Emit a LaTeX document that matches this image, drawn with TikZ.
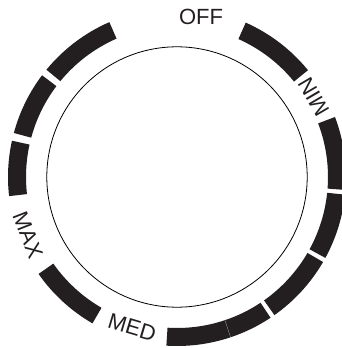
\documentclass[tikz,border=0pt]{standalone}
\usepackage{fontspec}
\setmainfont{Liberation Sans}
\definecolor{segblack}{RGB}{35,31,32}

\begin{document}
\begin{tikzpicture}[x=1pt, y=1pt, line join=miter,
  seg/.style={fill=segblack},
  lbl/.style={inner sep=0pt, text=segblack, font=\fontsize{22}{24}\selectfont}]
\useasboundingbox (-177,-171) rectangle (165,177);

% Dial
\draw[line width=0.8pt, black] (0,0) circle (130.2pt);

% Segments
\fill[seg] (39.2:151pt) arc (39.2:66:151pt) -- (66:169pt) arc (66:39.2:169pt) -- cycle;
\fill[seg] (-4.4:151pt) arc (-4.4:20.8:151pt) -- (20.8:169pt) arc (20.8:-4.4:169pt) -- cycle;
\fill[seg] (-28.6:151pt) arc (-28.6:-6:151pt) -- (-6:169pt) arc (-6:-28.6:169pt) -- cycle;
\fill[seg] (-54.8:151pt) arc (-54.8:-30.2:151pt) -- (-30.2:169pt) arc (-30.2:-54.8:169pt) -- cycle;
\fill[seg] (-71.5:151pt) arc (-71.5:-56.4:151pt) -- (-56.4:169pt) arc (-56.4:-71.5:169pt) -- cycle;
\fill[seg] (-93.6:151pt) arc (-93.6:-71.5:151pt) -- (-71.5:169pt) arc (-71.5:-93.6:169pt) -- cycle;
\draw[black!45, line width=0.3pt] (-71.5:151pt) -- (-71.5:169pt);
\fill[seg] (215:151pt) arc (215:240:151pt) -- (240:169pt) arc (240:215:169pt) -- cycle;
\fill[seg] (167.6:151pt) arc (167.6:186.5:151pt) -- (186.5:169pt) arc (186.5:167.6:169pt) -- cycle;
\fill[seg] (143:151pt) arc (143:164.9:151pt) -- (164.9:169pt) arc (164.9:143:169pt) -- cycle;
\fill[seg] (113.6:151pt) arc (113.6:140.6:151pt) -- (140.6:169pt) arc (140.6:113.6:169pt) -- cycle;

% Labels
\node[lbl] (off) at (24,160) {OFF};
\node[lbl, rotate=120.3] (min) at (30.3:159pt) {MIN};
\node[lbl, rotate=291.3] (max) at (201.3:160pt) {MAX};
\node[lbl, rotate=343.4] (med) at (253.4:157pt) {MED};

\end{tikzpicture}
\end{document}
